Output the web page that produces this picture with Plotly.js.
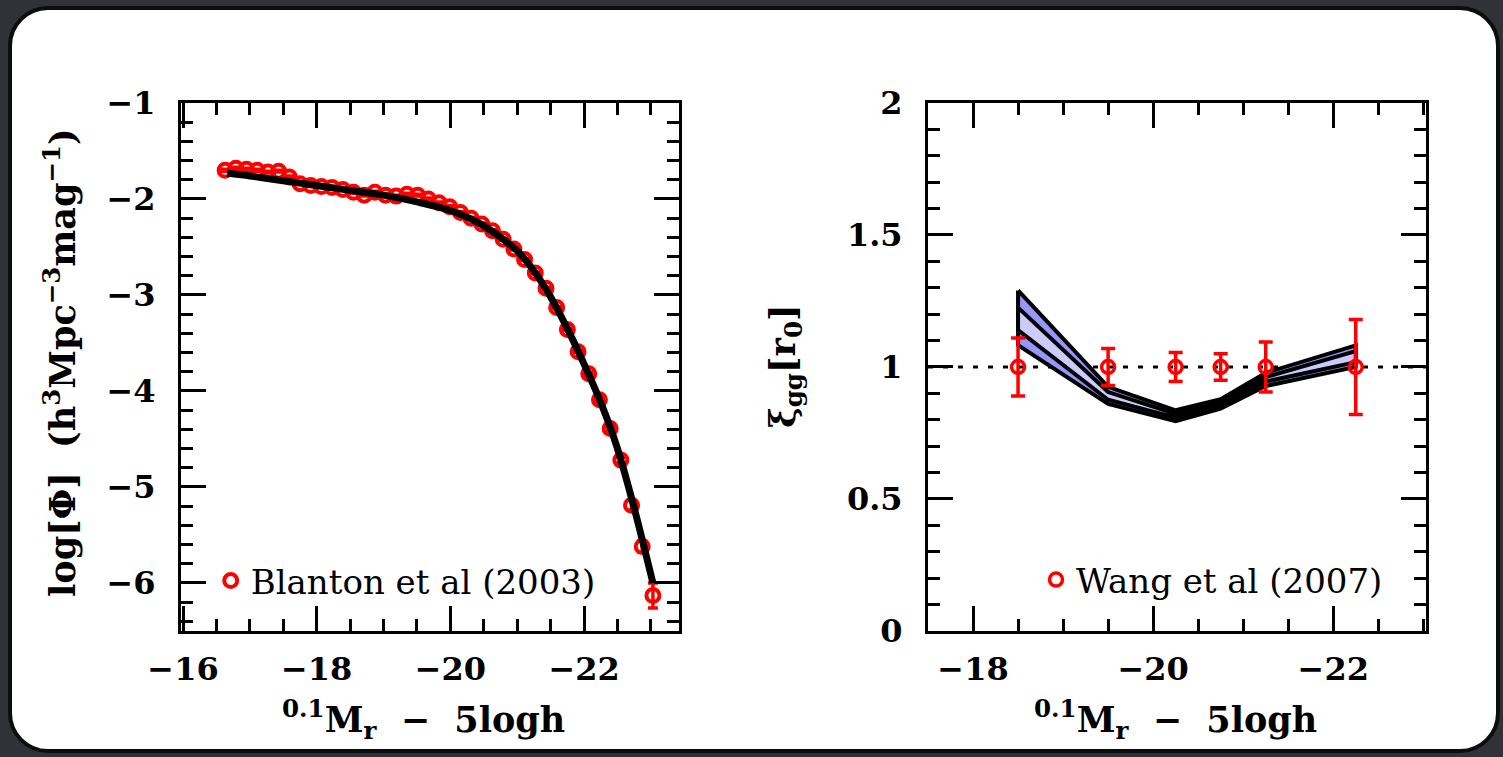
<!DOCTYPE html>
<html>
<head>
<meta charset="utf-8">
<script src="https://cdn.plot.ly/plotly-3.0.1.min.js"></script>
<style>
  html, body { margin: 0; padding: 0; width: 1503px; height: 757px; overflow: hidden; background: #303237; }
  #card { position: absolute; left: 8px; top: 6px; width: 1492px; height: 747px; box-sizing: border-box;
          background: #ffffff; border: 4px solid #0d0d0d; border-radius: 40px; }
  #chart { position: absolute; left: 0; top: 0; width: 1503px; height: 757px; }
</style>
</head>
<body>
<div id="card"></div>
<div id="chart"></div>
<script>
// ---- Left: r-band luminosity function ----
const lfMag = [-16.63, -16.79, -16.95, -17.11, -17.27, -17.43, -17.59, -17.75, -17.91, -18.07,
               -18.23, -18.39, -18.55, -18.71, -18.87, -19.03, -19.19, -19.35, -19.51, -19.67,
               -19.83, -19.99, -20.15, -20.31, -20.47, -20.63, -20.79, -20.95, -21.11, -21.27,
               -21.43, -21.59, -21.75, -21.91, -22.07, -22.23, -22.39, -22.55, -22.71, -22.87, -23.03];
const lfLogPhi = [-1.70, -1.68, -1.69, -1.70, -1.72, -1.71, -1.77, -1.84, -1.86, -1.87,
                  -1.88, -1.90, -1.93, -1.96, -1.93, -1.96, -1.97, -1.95, -1.96, -2.00,
                  -2.04, -2.08, -2.14, -2.20, -2.26, -2.33, -2.42, -2.52, -2.63, -2.77,
                  -2.93, -3.13, -3.36, -3.59, -3.82, -4.09, -4.39, -4.72, -5.19, -5.62, -6.13];
const lfErr = [0.01, 0.01, 0.01, 0.01, 0.01, 0.01, 0.01, 0.01, 0.01, 0.01,
               0.01, 0.01, 0.01, 0.01, 0.01, 0.01, 0.01, 0.01, 0.01, 0.01,
               0.01, 0.01, 0.01, 0.01, 0.01, 0.01, 0.01, 0.01, 0.01, 0.01,
               0.01, 0.01, 0.01, 0.01, 0.015, 0.02, 0.02, 0.03, 0.05, 0.06, 0.13];
const fitMag = [-16.66, -17.0, -17.5, -18.0, -18.5, -19.0, -19.5, -20.0, -20.5, -21.0,
                -21.25, -21.5, -21.75, -22.0, -22.25, -22.5, -22.75, -23.03];
const fitLogPhi = [-1.73, -1.76, -1.81, -1.86, -1.91, -1.96, -2.03, -2.12, -2.28, -2.54,
                   -2.75, -3.02, -3.35, -3.72, -4.12, -4.60, -5.22, -6.00];

// ---- Right: relative clustering amplitude at r0 ----
const wangMag = [-18.5, -19.5, -20.25, -20.75, -21.25, -22.25];
const wangXi  = [1, 1, 1, 1, 1, 1];
const wangErr = [0.11, 0.07, 0.055, 0.05, 0.095, 0.18];
const bandMag = [-18.5, -19.5, -20.25, -20.75, -21.25, -22.25];
const outerHi = [1.290, 0.925, 0.836, 0.878, 0.978, 1.082];
const innerHi = [1.225, 0.905, 0.822, 0.868, 0.962, 1.060];
const innerLo = [1.140, 0.876, 0.808, 0.855, 0.945, 1.018];
const outerLo = [1.083, 0.860, 0.795, 0.842, 0.928, 1.000];
const refLevel = 1;

const RED = '#ff0000';
const SERIF = 'DejaVu Serif';

// closed outline of a band: upper edge left to right, lower edge back
function ring(xs, hi, lo) {
  return {
    x: xs.concat(xs.slice().reverse(), [xs[0]]),
    y: hi.concat(lo.slice().reverse(), [hi[0]])
  };
}
const outerRing = ring(bandMag, outerHi, outerLo);
const innerRing = ring(bandMag, innerHi, innerLo);

const traces = [
  {
    x: lfMag, y: lfLogPhi, xaxis: 'x', yaxis: 'y', type: 'scatter', mode: 'markers',
    name: 'Blanton et al (2003)', legend: 'legend',
    marker: { symbol: 'circle-open', size: 13, color: RED, line: { width: 4 } },
    error_y: { type: 'data', array: lfErr, color: RED, thickness: 3.5, width: 5 }
  },
  {
    x: fitMag, y: fitLogPhi, xaxis: 'x', yaxis: 'y', type: 'scatter', mode: 'lines',
    showlegend: false, line: { color: '#000', width: 7, shape: 'spline', smoothing: 0.8 }
  },
  {
    x: outerRing.x, y: outerRing.y, xaxis: 'x2', yaxis: 'y2', type: 'scatter', mode: 'lines',
    showlegend: false, fill: 'toself', fillcolor: 'rgb(150,150,252)',
    line: { color: '#000', width: 4 }
  },
  {
    x: innerRing.x, y: innerRing.y, xaxis: 'x2', yaxis: 'y2', type: 'scatter', mode: 'lines',
    showlegend: false, fill: 'toself', fillcolor: 'rgb(204,204,252)',
    line: { color: '#000', width: 4 }
  },
  {
    x: wangMag, y: wangXi, xaxis: 'x2', yaxis: 'y2', type: 'scatter', mode: 'markers',
    name: 'Wang et al (2007)', legend: 'legend2',
    marker: { symbol: 'circle-open', size: 13, color: RED, line: { width: 3.5 } },
    error_y: { type: 'data', array: wangErr, color: RED, thickness: 3.5, width: 7 }
  }
];

const tickFont = { family: SERIF, size: 32, color: '#000', weight: 'bold' };
const titleFont = { family: SERIF, size: 35, color: '#000', weight: 'bold' };
const legendFont = { family: SERIF, size: 34, color: '#000' };

function axis(domain, range, dtick, minorDtick, anchor, standoff) {
  return {
    domain: domain, range: range, anchor: anchor, autorange: false,
    showgrid: false, zeroline: false,
    showline: true, linecolor: '#000', linewidth: 3, mirror: 'ticks',
    ticks: 'inside', ticklen: 25, tickwidth: 3, tickcolor: '#000',
    dtick: dtick, tick0: 0, tickfont: tickFont, ticklabelstandoff: standoff,
    minor: { dtick: minorDtick, ticks: 'inside', ticklen: 12, tickwidth: 3, tickcolor: '#000', showgrid: false }
  };
}

const yDom = [0.16645, 0.86394];
const xTitle = '<sup>0.1</sup>M<sub>r</sub>\u00a0\u00a0\u2212\u00a0\u00a05logh';

const layout = {
  width: 1503, height: 757,
  margin: { l: 0, r: 0, t: 0, b: 0, pad: 0 },
  paper_bgcolor: 'rgba(0,0,0,0)', plot_bgcolor: 'rgba(0,0,0,0)',
  showlegend: true,
  xaxis: axis([0.12043, 0.45176], [-15.97, -23.42], 2, 0.5, 'y', 8),
  yaxis: axis(yDom, [-6.5, -1], 1, 0.2, 'x', 16),
  xaxis2: axis([0.61743, 0.94877], [-17.5, -23.03], 2, 0.5, 'y2', 8),
  yaxis2: axis(yDom, [0, 2], 0.5, 0.1, 'x2', 16),
  legend: {
    x: 0.1402, y: 0.2325, xanchor: 'left', yanchor: 'middle', bgcolor: 'rgba(0,0,0,0)',
    borderwidth: 0, font: legendFont
  },
  legend2: {
    x: 0.6893, y: 0.2338, xanchor: 'left', yanchor: 'middle', bgcolor: 'rgba(0,0,0,0)',
    borderwidth: 0, font: legendFont
  },
  shapes: [
    {
      type: 'line', xref: 'x2 domain', yref: 'y2', x0: 0, x1: 1, y0: refLevel, y1: refLevel,
      layer: 'below', line: { color: '#000', width: 3, dash: '5px,10px' }
    }
  ],
  annotations: [
    { text: 'log[\u03a6]\u00a0\u00a0(h<sup>3</sup>Mpc<sup>\u22123</sup>mag<sup>\u22121</sup>)',
      xref: 'paper', yref: 'paper', x: 0.0399, y: 0.5218, textangle: -90,
      xanchor: 'center', yanchor: 'middle', showarrow: false, font: titleFont },
    { text: '\u03be<sub>gg</sub>[r<sub>0</sub>]',
      xref: 'paper', yref: 'paper', x: 0.5223, y: 0.5165, textangle: -90,
      xanchor: 'center', yanchor: 'middle', showarrow: false, font: titleFont },
    { text: xTitle, xref: 'paper', yref: 'paper', x: 0.2821, y: 0.049,
      xanchor: 'center', yanchor: 'middle', showarrow: false, font: titleFont },
    { text: xTitle, xref: 'paper', yref: 'paper', x: 0.7818, y: 0.049,
      xanchor: 'center', yanchor: 'middle', showarrow: false, font: titleFont }
  ]
};

Plotly.newPlot('chart', traces, layout, { staticPlot: true, displayModeBar: false });
</script>
</body>
</html>
